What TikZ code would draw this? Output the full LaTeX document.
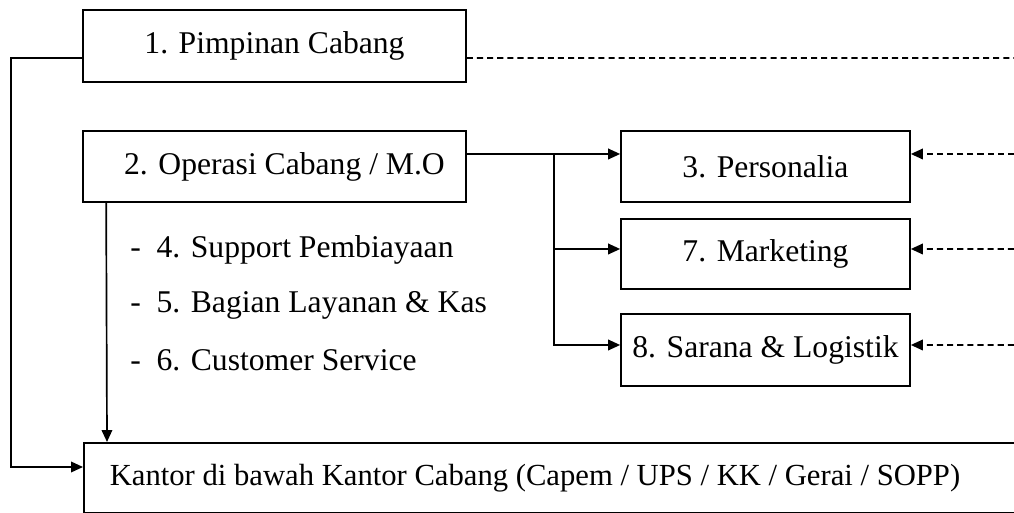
\documentclass[tikz,border=0pt]{standalone}
\usepackage{fontspec}
\setmainfont{Liberation Serif}
\usetikzlibrary{positioning,arrows.meta,calc}
\tikzset{
  kotak/.style={draw,line width=1.2pt,minimum height=1.8cm,inner sep=0pt,
    font=\fontsize{22.5}{27}\selectfont},
  daftar/.style={anchor=west,inner sep=0pt,font=\fontsize{22.5}{27}\selectfont},
  garis/.style={line width=1.2pt},
  putus/.style={line width=1.2pt,dash pattern=on 4.3pt off 2.9pt},
  >={Triangle[length=8.5pt,width=7.5pt]}
}

\begin{document}
\begin{tikzpicture}
\useasboundingbox (0,0) rectangle (25.35,12.825);
\clip (0,0) rectangle (25.35,12.825);
% kotak kiri
\node [kotak,minimum width=9.575cm] (pim) at (6.8625,11.675) {1. Pimpinan Cabang};
\node [kotak,minimum width=9.575cm,minimum height=1.775cm] (ops) at (6.8625,8.6625) {\hspace*{0.5cm}2. Operasi Cabang / M.O};
% kotak kanan
\node [kotak,minimum width=7.225cm,minimum height=1.775cm] (pers) at (19.1375,8.6625) {3. Personalia};
\node [kotak,minimum width=7.225cm,minimum height=1.75cm] (mkt) at (19.1375,6.475) {7. Marketing};
\node [kotak,minimum width=7.225cm] (srn) at (19.1375,4.075) {8. Sarana \& Logistik};
% bagian di bawah operasi
\node [daftar] (sup) at (3.25,6.575) {-\hspace{0.5em}4. Support Pembiayaan};
\node [daftar] (lay) at (3.25,5.2) {-\hspace{0.5em}5. Bagian Layanan \& Kas};
\node [daftar] (cs) at (3.25,3.825) {-\hspace{0.5em}6. Customer Service};
% kantor di bawah
\node [kotak,anchor=north west,minimum height=1.75cm,inner xsep=0.65cm,font=\fontsize{21.8}{26}\selectfont] (kantor) at (2.075,1.775) {\makebox[24cm][l]{Kantor di bawah Kantor Cabang (Capem / UPS / KK / Gerai / SOPP)}};
% titik di tepi kanan
\coordinate (tepi1) at (25.6,11.375);
\coordinate (tepi3) at (25.6,8.975);
\coordinate (tepi7) at (25.6,6.6);
\coordinate (tepi8) at (25.6,4.2);
\coordinate (cabang) at (13.85,8.975);
% garis
\draw [garis,->] ([yshift=-0.3cm]pim.west) -- ++(-1.775,0) |- ([yshift=-0.625cm]kantor.north west);
\draw [garis,->] ([xshift=0.6cm]ops.south west) -- ([xshift=0.6cm]kantor.north west);
\draw [garis,->] ([yshift=0.3125cm]ops.east) -- ([yshift=0.3125cm]pers.west);
\draw [garis,->] (cabang) |- ([yshift=0.125cm]mkt.west);
\draw [garis,->] (cabang) |- ([yshift=0.125cm]srn.west);
\draw [putus] ([yshift=-0.3cm]pim.east) -- (tepi1);
\draw [putus,->] (tepi3) -- ([yshift=0.3125cm]pers.east);
\draw [putus,->] (tepi7) -- ([yshift=0.125cm]mkt.east);
\draw [putus,->] (tepi8) -- ([yshift=0.125cm]srn.east);
\end{tikzpicture}
\end{document}
